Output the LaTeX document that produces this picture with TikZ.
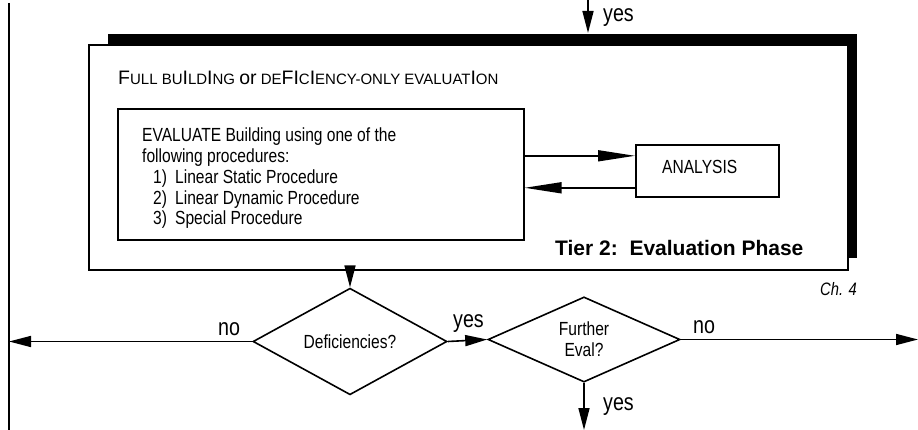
\documentclass[tikz,border=0pt]{standalone}
\usepackage{fontspec}
\setmainfont{Liberation Sans}
\newfontfamily\narrowfont{Liberation Sans}[FakeStretch=0.82]
\usetikzlibrary{arrows.meta,shapes.geometric}

% full-size capital inside the faked small-caps heading
\newcommand\capL[1]{{\fontsize{19.5}{21}\selectfont #1}}

\begin{document}
\begin{tikzpicture}[x=1pt,y=-1pt,
  box/.style={draw, line width=1.6pt, inner sep=0pt, anchor=north west, fill=white},
  flow/.style={line width=1.6pt},
  arr/.style={flow, -{Triangle[length=22pt,width=11pt]}},
  longarr/.style={flow, -{Triangle[length=37pt,width=11pt]}},
  decision/.style={draw, diamond, line width=1.6pt, inner sep=0pt,
    minimum width=194pt, minimum height=81pt, align=center,
    font=\narrowfont\fontsize{19}{21}\selectfont},
  txt/.style={inner sep=0pt, anchor=base west, font=\narrowfont\fontsize{19}{21}\selectfont},
  lbl/.style={inner sep=0pt, anchor=base west, font=\narrowfont\fontsize{24}{26}\selectfont},
]
\useasboundingbox (0,0) rectangle (918,430);

% vertical return line on the left and free connector ends
\coordinate (ltop) at (9,3);
\coordinate (lbot) at (9,430);
\coordinate (topin) at (588,0);
\coordinate (rightend) at (918,0);
\coordinate (botend) at (584,430);
\draw[flow] (ltop) -- (lbot);

% Tier 2 phase box with its heavy shadow
\node[box, draw=none, fill=black, minimum width=749pt, minimum height=224pt] (tiershadow) at (107,33) {};
\node[box, minimum width=759pt, minimum height=225pt] (tier) at (88,44) {};

\node[inner sep=0pt, anchor=base west, font=\fontsize{15}{17}\selectfont] (tiertitle) at (118,85)
  {\capL{F}ULL BU\capL{I}LD\capL{I}NG \capL{or} DE\capL{F}\capL{I}C\capL{I}ENCY-ONLY EVALUAT\capL{I}ON};

% evaluation procedures
\node[box, minimum width=406pt, minimum height=131pt] (eval) at (117,108) {};
\node[txt] (evl1) at (142,142) {EVALUATE Building using one of the};
\node[txt] (evl2) at (142,162.75) {following procedures:};
\node[txt] (evl3) at (153,183.5) {\makebox[22pt][l]{1)}Linear Static Procedure};
\node[txt] (evl4) at (153,204.25) {\makebox[22pt][l]{2)}Linear Dynamic Procedure};
\node[txt] (evl5) at (153,225) {\makebox[22pt][l]{3)}Special Procedure};

% analysis loop
\node[box, minimum width=143pt, minimum height=52pt] (analysis) at (635,144) {};
\node[txt] (analysistxt) at (662,174) {ANALYSIS};
\draw[longarr] ([yshift=15pt]analysis.west -| eval.east) -- ([yshift=15pt]analysis.west);
\draw[longarr] ([yshift=-17pt]analysis.west) -- ([yshift=-17pt]analysis.west -| eval.east);

\node[inner sep=0pt, anchor=base west, font=\bfseries\fontsize{21}{24}\selectfont] (tiername) at (555,256)
  {Tier 2:\ \ Evaluation Phase};
\node[inner sep=0pt, anchor=base west, font=\narrowfont\itshape\fontsize{18}{20}\selectfont] (chap) at (820,295) {Ch. 4};

% decisions
\node[decision] (defic) at (350,341.5) {Deficiencies?};
\node[decision, minimum width=192pt, minimum height=82pt] (further) at (584,339.5) {Further\\Eval?};

% flow connectors
\draw[arr] (topin) -- (topin |- tiershadow.north);
\draw[arr] (defic.north |- tier.south) -- (defic.north);
\draw[arr] (defic.west) -- (defic.west -| ltop);
\draw[arr] (defic.east) -- (further.west);
\draw[arr] (further.east) -- (further.east -| rightend);
\draw[arr] (further.south) -- (botend);

% branch labels
\node[lbl] (yestop) at (603,22) {yes};
\node[lbl] (nodefic) at (218,335) {no};
\node[lbl] (yesdefic) at (453,327) {yes};
\node[lbl] (nofurther) at (693,333) {no};
\node[lbl] (yesfurther) at (603,410) {yes};
\end{tikzpicture}
\end{document}
